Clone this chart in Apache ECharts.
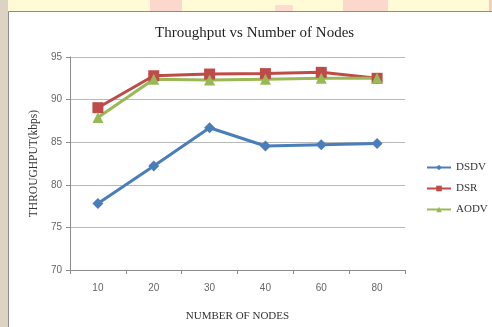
<!DOCTYPE html>
<html>
<head>
<meta charset="utf-8">
<script src="https://cdn.jsdelivr.net/npm/echarts@6/dist/echarts.min.js"></script>
<style>
	html, body { margin:0; padding:0; }
	#chart { width:492px; height:327px; }
</style>
</head>
<body>
<div id="chart"></div>
<script>
var nodes = ['10', '20', '30', '40', '60', '80'];
var dsdv = [77.8, 82.2, 86.7, 84.55, 84.7, 84.85];
var dsr = [89.05, 92.8, 93.0, 93.05, 93.2, 92.5];
var aodv = [87.9, 92.4, 92.3, 92.4, 92.5, 92.5];

var myChart = echarts.init(document.getElementById('chart'));

function mkSeries(name, data, color, symbol, size){
	return {
		name : name,
		type : 'line',
		data : data,
		symbol : symbol,
		symbolSize : size,
		color : color,
		lineStyle : { width : 3, color : color },
		itemStyle : { color : color },
		emphasis : { disabled : true }
	};
}

var option = {
	backgroundColor : '#fffbd6',
	animation : false,
	graphic : [
		// left textured strip
		{ type : 'rect', shape : { x : 0, y : 0, width : 8, height : 327 }, style : { fill : '#ddd3c2' }, z : -10 },
		// pink blobs in the top strip
		{ type : 'rect', shape : { x : 150, y : 0, width : 32, height : 11 }, style : { fill : '#fbd7cc' }, z : -10 },
		{ type : 'rect', shape : { x : 275, y : 5, width : 18, height : 6 }, style : { fill : '#fbdccf' }, z : -10 },
		{ type : 'rect', shape : { x : 343, y : 0, width : 45, height : 11 }, style : { fill : '#fbd7cc' }, z : -10 },
		{ type : 'rect', shape : { x : 489, y : 0, width : 3, height : 11 }, style : { fill : '#f6cdbf' }, z : -10 },
		// white chart box
		{ type : 'rect', shape : { x : 8.5, y : 11.5, width : 490, height : 330 }, style : { fill : '#ffffff', stroke : '#8c8c8c', lineWidth : 1 }, z : -9 }
	],
	title : {
		text : 'Throughput vs Number of Nodes',
		left : 150,
		top : 21,
		textStyle : { fontFamily : 'Liberation Serif', fontSize : 15, fontWeight : 'normal', color : '#1f1f1f' }
	},
	legend : {
		orient : 'vertical',
		left : 421,
		top : 157,
		itemWidth : 24,
		itemHeight : 7,
		itemGap : 10,
		data : ['DSDV', 'DSR', 'AODV'],
		textStyle : { fontFamily : 'Liberation Serif', fontSize : 11, color : '#333' }
	},
	grid : { left : 70, right : 87, top : 57, bottom : 57, containLabel : false },
	xAxis : {
		type : 'category',
		data : nodes,
		boundaryGap : true,
		name : 'NUMBER OF NODES',
		nameLocation : 'middle',
		nameGap : 41,
		nameTextStyle : { fontFamily : 'Liberation Serif', fontSize : 11, color : '#333' },
		axisLine : { lineStyle : { color : '#8c8c8c' } },
		axisTick : { show : true, length : 4, lineStyle : { color : '#8c8c8c' } },
		axisLabel : { margin : 13, fontFamily : 'Liberation Sans', fontSize : 10, color : '#666' }
	},
	yAxis : {
		type : 'value',
		min : 70,
		max : 95,
		interval : 5,
		name : 'THROUGHPUT(kbps)',
		nameLocation : 'middle',
		nameGap : 29,
		nameTextStyle : { fontFamily : 'Liberation Serif', fontSize : 11.5, color : '#333' },
		axisLine : { show : true, lineStyle : { color : '#8c8c8c' } },
		axisTick : { show : true, length : 4, lineStyle : { color : '#8c8c8c' } },
		axisLabel : { margin : 8, fontFamily : 'Liberation Sans', fontSize : 10, color : '#666' },
		splitLine : { lineStyle : { color : '#b8b8b8' } }
	},
	series : [
		mkSeries('DSDV', dsdv, '#4a7ebb', 'diamond', 11),
		mkSeries('DSR', dsr, '#be4b48', 'rect', 11),
		mkSeries('AODV', aodv, '#98b954', 'triangle', 11)
	]
};
myChart.setOption(option);
</script>
</body>
</html>
